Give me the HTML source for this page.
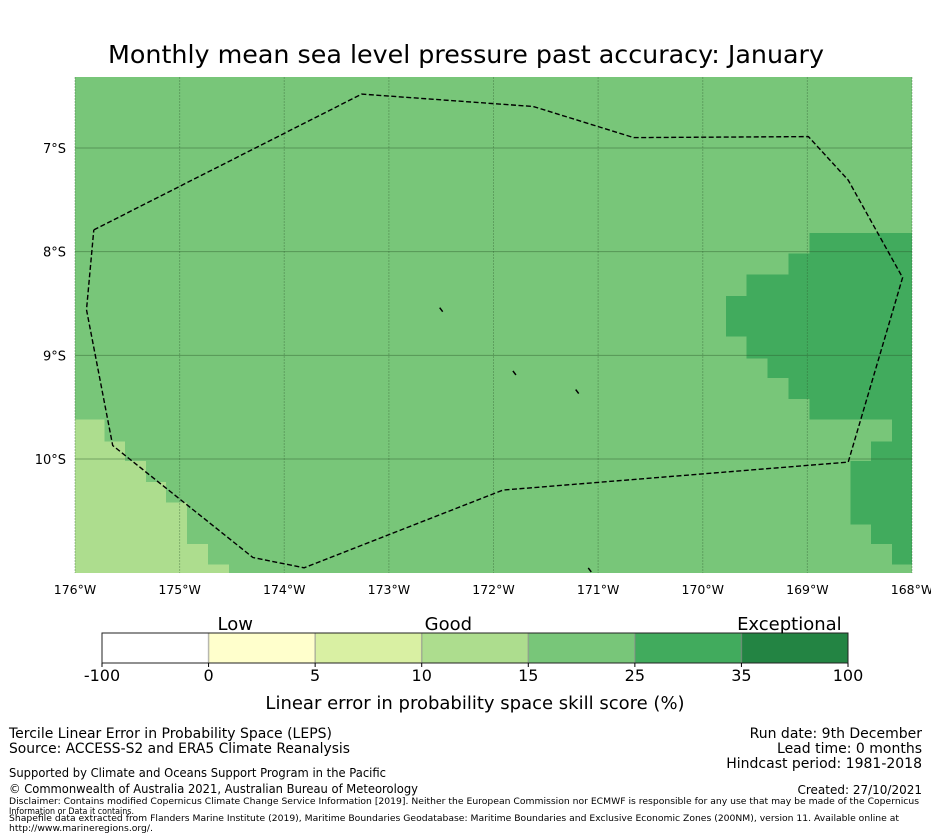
<!DOCTYPE html>
<html><head><meta charset="utf-8">
<style>
html,body{margin:0;padding:0;background:#fff;}
svg{display:block;font-family:"DejaVu Sans","Liberation Sans",sans-serif;}
</style></head>
<body>
<svg id="fig" width="931" height="839" viewBox="0 0 931 839" xmlns="http://www.w3.org/2000/svg">
<text x="466" y="63" font-size="25" text-anchor="middle" fill="#000" textLength="716" lengthAdjust="spacingAndGlyphs">Monthly mean sea level pressure past accuracy: January</text>
<g id="map"></g>
<g id="cbar"></g>
<g font-size="14" fill="#000">
<text x="9" y="738">Tercile Linear Error in Probability Space (LEPS)</text>
<text x="9" y="753" textLength="341" lengthAdjust="spacingAndGlyphs">Source: ACCESS-S2 and ERA5 Climate Reanalysis</text>
<text x="922" y="738" text-anchor="end">Run date: 9th December</text>
<text x="922" y="753" text-anchor="end">Lead time: 0 months</text>
<text x="922" y="768" text-anchor="end">Hindcast period: 1981-2018</text>
<text x="9" y="777" font-size="12" textLength="377" lengthAdjust="spacingAndGlyphs">Supported by Climate and Oceans Support Program in the Pacific</text>
<text x="9" y="793" font-size="12" textLength="409" lengthAdjust="spacingAndGlyphs">© Commonwealth of Australia 2021, Australian Bureau of Meteorology</text>
<text x="922" y="794" font-size="12" text-anchor="end">Created: 27/10/2021</text>
<text x="9" y="804" font-size="9" textLength="910" lengthAdjust="spacingAndGlyphs">Disclaimer: Contains modified Copernicus Climate Change Service Information [2019]. Neither the European Commission nor ECMWF is responsible for any use that may be made of the Copernicus</text>
<text x="9" y="814" font-size="9" textLength="125" lengthAdjust="spacingAndGlyphs">Information or Data it contains.</text>
<text x="9" y="821" font-size="9" textLength="890" lengthAdjust="spacingAndGlyphs">Shapefile data extracted from Flanders Marine Institute (2019), Maritime Boundaries Geodatabase: Maritime Boundaries and Exclusive Economic Zones (200NM), version 11. Available online at</text>
<text x="9" y="831" font-size="9" textLength="144" lengthAdjust="spacingAndGlyphs">http://www.marineregions.org/.</text>
</g>
</svg>
<script>
// ---- data ----
const lonTicks = [-176,-175,-174,-173,-172,-171,-170,-169,-168];
const lonTickLabels = ["176°W","175°W","174°W","173°W","172°W","171°W","170°W","169°W","168°W"];
const latTicks = [-7,-8,-9,-10];
const latTickLabels = ["7°S","8°S","9°S","10°S"];
// exceptional (25-35) cells: [lon0, lon1, latTop, latBottom]
const darkCells = [
 [-168.98,-168,-7.82,-8.02],[-169.18,-168,-8.02,-8.22],[-169.58,-168,-8.22,-8.43],
 [-169.78,-168,-8.43,-8.82],[-169.58,-168,-8.82,-9.03],[-169.38,-168,-9.03,-9.22],
 [-169.18,-168,-9.22,-9.42],[-168.98,-168,-9.42,-9.62],[-168.19,-168,-9.62,-9.83],
 [-168.39,-168,-9.83,-10.02],[-168.59,-168,-10.02,-10.63],[-168.39,-168,-10.63,-10.82],
 [-168.19,-168,-10.82,-11.02]];
// good (10-15) cells
const lightCells = [
 [-176,-175.72,-9.62,-9.83],[-176,-175.52,-9.83,-10.02],[-176,-175.32,-10.02,-10.22],
 [-176,-175.13,-10.22,-10.42],[-176,-174.93,-10.42,-10.82],[-176,-174.73,-10.82,-11.02],
 [-176,-174.53,-11.02,-11.1]];
const eezLon = [-175.82,-173.26,-171.62,-170.66,-168.99,-168.61,-168.09,-168.61,-171.91,-173.81,-174.30,-175.64,-175.89,-175.82];
const eezLat = [-7.79,-6.48,-6.60,-6.90,-6.89,-7.31,-8.25,-10.03,-10.30,-11.05,-10.95,-9.87,-8.56,-7.79];
const islandLon = [-172.5,-171.8,-171.2,-171.08];
const islandLat = [-8.56,-9.17,-9.35,-11.07];
const cbarBounds = ["-100","0","5","10","15","25","35","100"];
const cbarColors = ["#ffffff","#ffffcc","#d9f0a3","#addd8e","#78c679","#41ab5d","#238443"];
const cbarCategories = ["Low","Good","Exceptional"];
const cbarCategoryPos = [1.25,3.25,6.45];

// ---- axes ----
const X0=75,X1=912,Y0=77,Y1=573;
const lonMin=-176,lonMax=-168,latTop=-6.315,latBot=-11.1;
const xs = lon => X0+(lon-lonMin)/(lonMax-lonMin)*(X1-X0);
const ys = lat => Y0+(latTop-lat)/(latTop-latBot)*(Y1-Y0);
const NS="http://www.w3.org/2000/svg";
function mk(tag,attrs,parent){const e=document.createElementNS(NS,tag);for(const k in attrs)e.setAttribute(k,attrs[k]);parent.appendChild(e);return e;}
const map=document.getElementById('map');
let bg=mk('rect',{x:X0,y:Y0,width:X1-X0,height:Y1-Y0,fill:'#78c679'},map);


darkCells.forEach(c=>{
 const r=mk('rect',{x:xs(c[0]),y:ys(c[2]),width:xs(c[1])-xs(c[0]),height:ys(c[3])-ys(c[2]),fill:'#41ab5d','shape-rendering':'crispEdges'},map);
 
 
});
lightCells.forEach(c=>{
 const r=mk('rect',{x:xs(c[0]),y:ys(c[2]),width:xs(c[1])-xs(c[0]),height:ys(c[3])-ys(c[2]),fill:'#addd8e','shape-rendering':'crispEdges'},map);
 
 
});
lonTicks.forEach((v,i)=>{
 const l=mk('line',{x1:xs(v),x2:xs(v),y1:Y0,y2:Y1,stroke:'#2d5a2d','stroke-opacity':0.35,'stroke-width':1,'stroke-dasharray':'2,1'},map);
 
 
 const t=mk('text',{x:xs(v),y:594,'font-size':12.5,'text-anchor':'middle',fill:'#000'},map);
 t.textContent=lonTickLabels[i];
 
 
});
latTicks.forEach((v,i)=>{
 const l=mk('line',{x1:X0,x2:X1,y1:ys(v),y2:ys(v),stroke:'#2d5a2d','stroke-opacity':0.45,'stroke-width':1},map);
 
 
 const t=mk('text',{x:66,y:ys(v)+5,'font-size':13,'text-anchor':'end',fill:'#000'},map);
 t.textContent=latTickLabels[i];
 
 
});
const pts=eezLon.map((v,i)=>xs(v).toFixed(1)+','+ys(eezLat[i]).toFixed(1)).join(' ');
const eez=mk('polyline',{points:pts,fill:'none',stroke:'#000','stroke-width':1.4,'stroke-dasharray':'5,2.5','stroke-linejoin':'round'},map);


islandLon.forEach((v,i)=>{
 const x=xs(v),y=ys(islandLat[i]);
 const isl=mk('line',{x1:x-1.5,y1:y-2,x2:x+1.5,y2:y+2,stroke:'#000','stroke-width':1.5},map);
 
 
});

// ---- colorbar ----
const cb=document.getElementById('cbar');
const CX0=102,CX1=848,CY0=633,CY1=663;
const n=cbarColors.length;
const cx = k => CX0+k*(CX1-CX0)/n;
cbarColors.forEach((c,i)=>{
 const r=mk('rect',{x:cx(i),y:CY0,width:cx(i+1)-cx(i),height:CY1-CY0,fill:c},cb);
 
 
 if(i>0){const d=mk('line',{x1:cx(i),x2:cx(i),y1:CY0,y2:CY1,stroke:'#888','stroke-opacity':0.6,'stroke-width':1.5},cb);
  
  }
});
const fr=mk('rect',{x:CX0,y:CY0,width:CX1-CX0,height:CY1-CY0,fill:'none',stroke:'#222','stroke-width':1},cb);


cbarBounds.forEach((b,i)=>{
 const tk=mk('line',{x1:cx(i),x2:cx(i),y1:CY1,y2:CY1+4,stroke:'#000'},cb);
 
 
 const t=mk('text',{x:cx(i),y:681,'font-size':16,'text-anchor':'middle',fill:'#000'},cb);
 t.textContent=b;
 
 
});
cbarCategories.forEach((c,i)=>{
 const t=mk('text',{x:cx(cbarCategoryPos[i]),y:630,'font-size':18,'text-anchor':'middle',fill:'#000'},cb);
 t.textContent=c;
 
 
});
const ct=mk('text',{x:475,y:709,'font-size':18,'text-anchor':'middle',fill:'#000'},cb);
ct.textContent='Linear error in probability space skill score (%)';


</script>
</body></html>
